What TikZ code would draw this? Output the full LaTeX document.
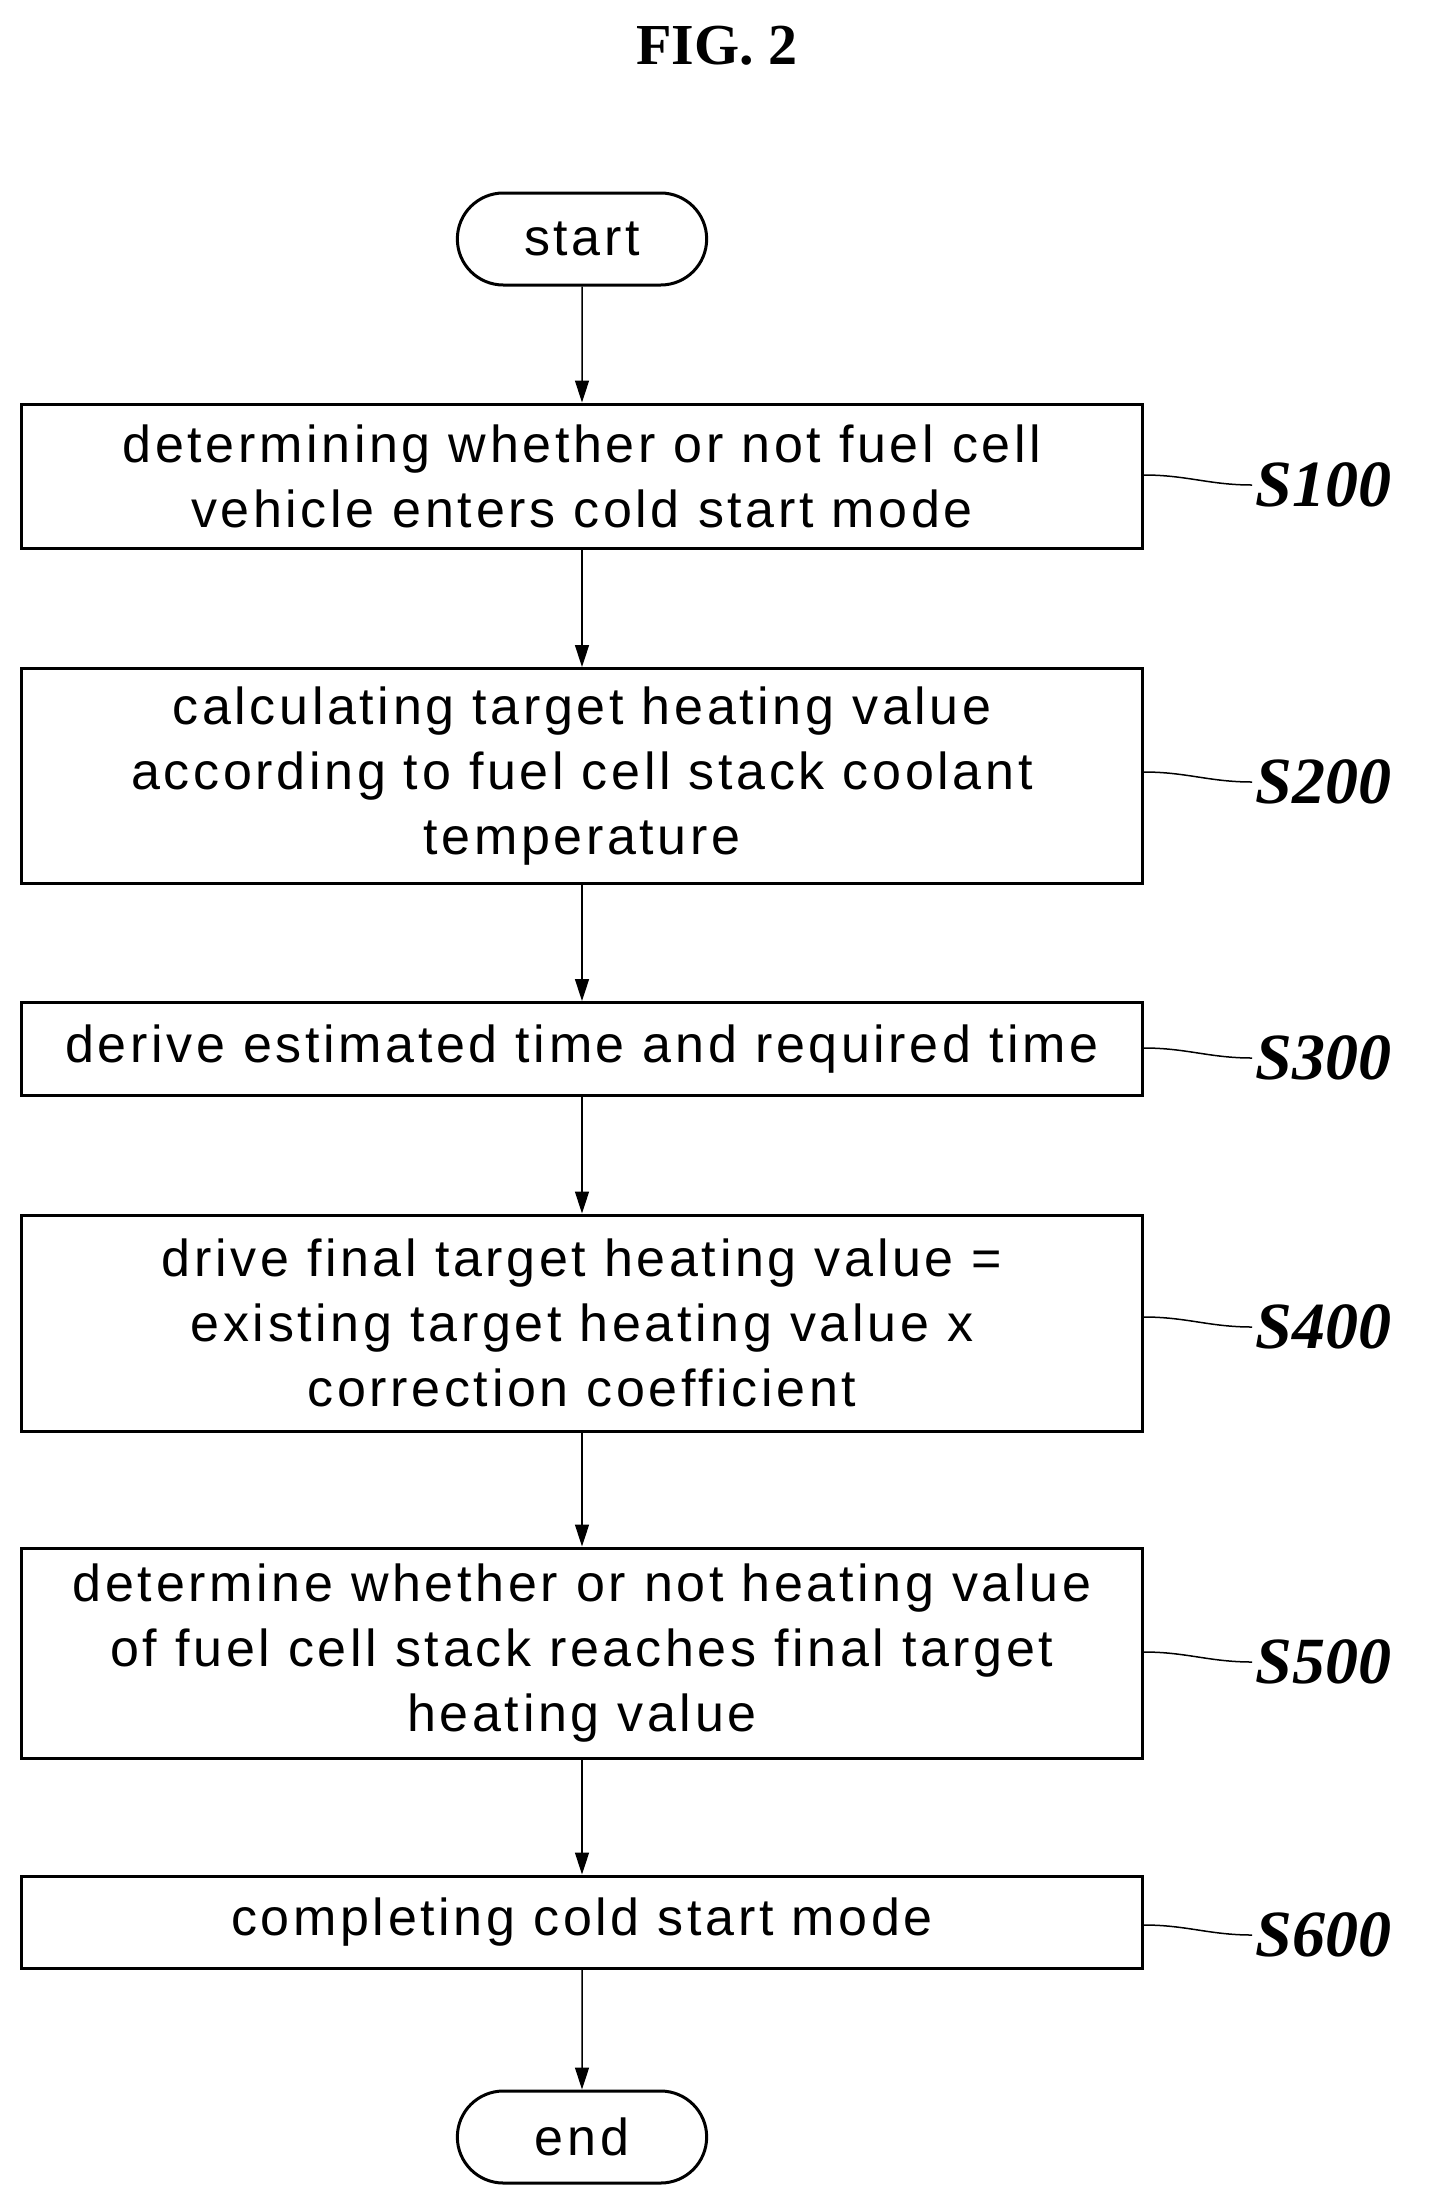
\documentclass[tikz,border=0pt]{standalone}
\usepackage{fontspec}
\setmainfont{Liberation Sans}[LetterSpace=7]
\newfontfamily\labfont{Liberation Serif}
\usetikzlibrary{arrows.meta,positioning,shapes.misc}

\begin{document}
\begin{tikzpicture}[x=1pt,y=-1pt,
    stepbox/.style={draw, line width=3pt, minimum width=1121pt, align=center,
        font=\fontsize{52}{65}\selectfont, inner sep=0pt},
    terminal/.style={draw, line width=3pt, rounded rectangle, minimum width=256pt,
        minimum height=92pt, font=\fontsize{52}{65}\selectfont},
    steplabel/.style={anchor=west, font=\labfont\bfseries\itshape\fontsize{66}{66}\selectfont},
    flow/.style={line width=1.5pt, -{Triangle[length=22pt,width=14pt]}}
    ]
    \useasboundingbox (0,0) rectangle (1440,2212);
    \node[font=\labfont\bfseries\fontsize{58}{58}\selectfont] (title) at (717,46) {FIG. 2};

    \node[terminal] (start) at (582,239) {start};
    \node[stepbox, minimum height=144pt] (S100) at (582,476)
        {determining whether or not fuel cell\\ vehicle enters cold start mode};
    \node[stepbox, minimum height=215pt] (S200) at (582,776)
        {calculating target heating value\\according to fuel cell stack coolant\\temperature};
    \node[stepbox, minimum height=93pt] (S300) at (582,1049)
        {derive estimated time and required time};
    \node[stepbox, minimum height=216pt] (S400) at (582,1323)
        {drive final target heating value =\\existing target heating value x\\correction coefficient};
    \node[stepbox, minimum height=210pt] (S500) at (582,1653)
        {determine whether or not heating value\\of fuel cell stack reaches final target\\heating value};
    \node[stepbox, minimum height=92pt] (S600) at (582,1922)
        {completing cold start mode};
    \node[terminal] (end) at (582,2137) {end};

    % arrows between the steps
    \foreach \a/\b in {start/S100, S100/S200, S200/S300, S300/S400, S400/S500, S500/S600, S600/end}
        \draw[flow] (\a) -- (\b);

    % step labels with leaders
    \foreach \s/\y in {S100/485, S200/782, S300/1058, S400/1327, S500/1662, S600/1935} {
        \node[steplabel] (l\s) at (1252,\y) {\s};
        \draw[line width=1.5pt] (\s.east |- 0,\y-10) to[out=0,in=180] (l\s.west);
    }
\end{tikzpicture}
\end{document}
